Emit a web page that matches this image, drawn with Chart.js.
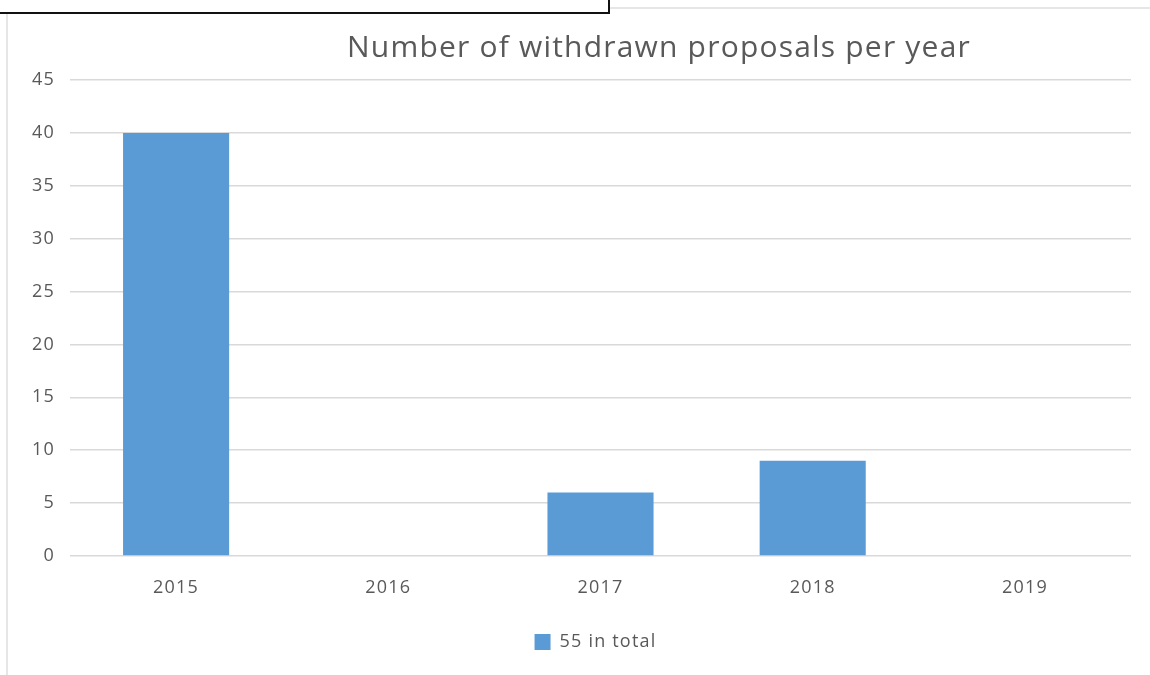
<!DOCTYPE html>
<html>
<head>
<meta charset="utf-8">
<script src="https://cdn.jsdelivr.net/npm/chart.js@4"></script>
<style>
  html, body { margin: 0; padding: 0; background: #fff; }
  #wrap { position: relative; width: 1150px; height: 675px; overflow: hidden; }
  #frame-top { position: absolute; left: 608px; top: 7px; width: 542px; height: 2px; background: #e6e6e6; }
  #frame-left { position: absolute; left: 6px; top: 13px; width: 2px; height: 662px; background: #e6e6e6; }
  #box { position: absolute; left: -4px; top: -20px; width: 610px; height: 30px; border: 2px solid #111; background: #fff; }
  #grafico { position: absolute; left: 0; top: 0; }
</style>
</head>
<body>
<div id="wrap">
  <div id="frame-top"></div>
  <div id="frame-left"></div>
  <div id="box"></div>
  <canvas id="grafico" width="1150" height="675"></canvas>
</div>
<script>
const anos = ['2015', '2016', '2017', '2018', '2019'];
const retiradas = [40, 0, 6, 9, 0];
const serieNome = '55 in total';
const titulo = 'Number of withdrawn proposals per year';
const fonte = "'Open Sans', 'Noto Sans', sans-serif";
const cinza = '#595959';
const espacamento = '1.2px';

// slightly wider letter spacing for all canvas text
const espacoPlugin = {
  id: 'espacoPlugin',
  beforeUpdate(chart) { chart.ctx.letterSpacing = espacamento; },
  beforeDraw(chart) { chart.ctx.letterSpacing = espacamento; }
};

// centre the legend under the plot area instead of the whole canvas
const legendaPlugin = {
  id: 'legendaPlugin',
  afterLayout(chart) {
    const lg = chart.legend;
    const area = chart.chartArea;
    const dx = (area.left + area.right) / 2 - (lg.left + lg.right) / 2 - 5;
    lg.left += dx;
    lg.right += dx;
  }
};

// title is drawn a bit right of the plot centre
const tituloPlugin = {
  id: 'tituloPlugin',
  afterDraw(chart) {
    const c = chart.ctx;
    c.save();
    c.font = '30px ' + fonte;
    c.letterSpacing = '1.2px';
    c.fillStyle = cinza;
    c.textAlign = 'center';
    c.textBaseline = 'middle';
    c.fillText(titulo, 659, 48);
    c.restore();
  }
};

const ctx = document.getElementById('grafico').getContext('2d');

new Chart(ctx, {
  type: 'bar',
  data: {
    labels: anos,
    datasets: [{
      label: serieNome,
      data: retiradas,
      backgroundColor: '#5b9bd5',
      barPercentage: 0.5,
      categoryPercentage: 1.0
    }]
  },
  options: {
    responsive: false,
    animation: false,
    layout: { padding: { left: 0, right: 19, top: 80, bottom: 14 } },
    plugins: {
      title: { display: false },
      tooltip: { enabled: false },
      legend: {
        display: true,
        position: 'bottom',
        labels: {
          boxWidth: 16,
          boxHeight: 16,
          padding: 10,
          color: cinza,
          font: { family: fonte, size: 18 }
        }
      }
    },
    scales: {
      x: {
        grid: { display: false, drawTicks: false },
        border: { display: false },
        ticks: { color: cinza, font: { family: fonte, size: 18 }, padding: 21 },
        afterFit(scale) { scale.height = 67; }
      },
      y: {
        min: 0,
        max: 45,
        ticks: { stepSize: 5, color: cinza, font: { family: fonte, size: 18 }, padding: 15 },
        grid: { color: '#d9d9d9', lineWidth: 1.5, drawTicks: false },
        border: { display: false },
        afterFit(scale) { scale.width = 70; }
      }
    }
  },
  plugins: [espacoPlugin, legendaPlugin, tituloPlugin]
});
</script>
</body>
</html>
